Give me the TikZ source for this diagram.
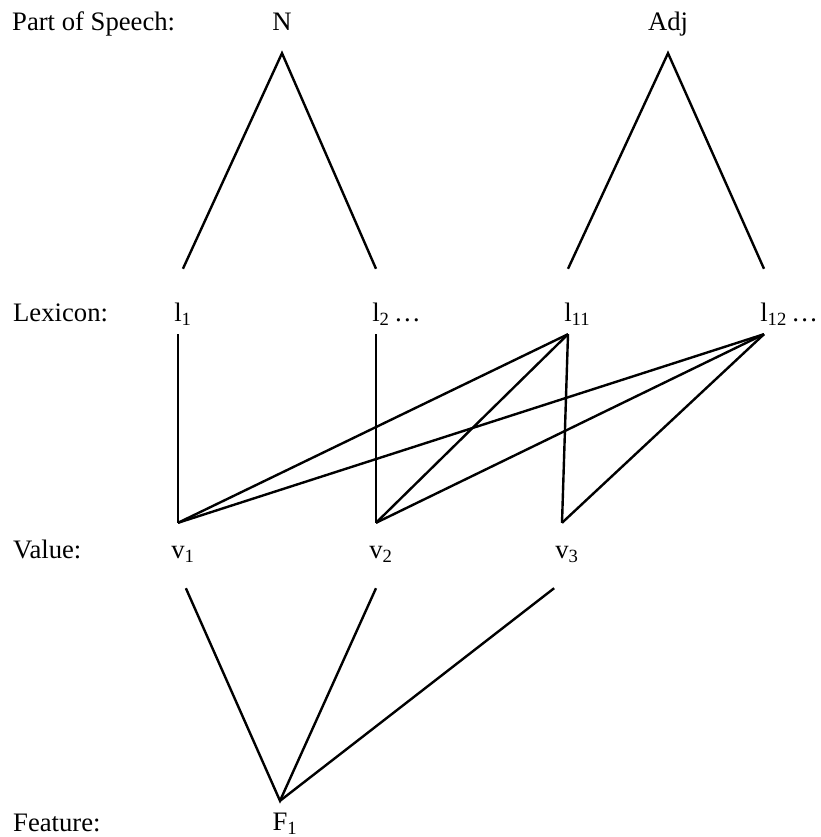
\documentclass[tikz,border=0pt]{standalone}
\usepackage{fontspec}
\setmainfont{Liberation Serif}
\usetikzlibrary{positioning}

\begin{document}
\begin{tikzpicture}[x=0.75pt, y=-0.75pt, line width=1.8pt,
  every node/.style={inner sep=0pt, anchor=base, font=\fontsize{20}{24}\selectfont},
  rowlabel/.style={anchor=base west},
  posrow/.style={text height=15pt, text depth=15.75pt},
  lexrow/.style={text height=38.25pt, text depth=9pt},
  valrow/.style={text height=25.5pt, text depth=21.75pt},
  featrow/.style={text height=21pt, text depth=0pt}]
\useasboundingbox (0,0) rectangle (820,837);

% Etiquetas de cada nivel
\node (lblpos) [rowlabel] at (11, 31) {Part of Speech:};
\node (lbllex) [rowlabel] at (12, 321) {Lexicon:};
\node (lblval) [rowlabel] at (12, 558) {Value:};
\node (lblfeat) [rowlabel] at (12, 831) {Feature:};

% Nodos de cada nivel
\node (N) [posrow] at (282, 31) {N};
\node (Adj) [posrow] at (668, 31) {Adj};

\node (l1) [lexrow] at (178, 321) {l\rlap{\textsubscript{1}}};
\node (l2) [lexrow] at (376, 321) {l\rlap{\textsubscript{2}\,…}};
\node (l11) [lexrow] at (568, 321) {l\rlap{\textsubscript{11}}};
\node (l12) [lexrow] at (764, 321) {l\rlap{\textsubscript{12}\,…}};

\node (v1) [valrow] at (178, 558) {v\rlap{\textsubscript{1}}};
\node (v2) [valrow] at (376, 558) {v\rlap{\textsubscript{2}}};
\node (v3) [valrow] at (562, 558) {v\rlap{\textsubscript{3}}};

\node (F1) [featrow] at (280, 830) {F\rlap{\textsubscript{1}}};

% Aristas entre niveles
\draw (l1.north east) -- (N.south) -- (l2.north);
\draw (l11.north) -- (Adj.south) -- (l12.north);

\draw (l1.south) -- (v1.north);
\draw (l2.south) -- (v2.north);
\foreach \lx in {l11, l12}
  \foreach \vx in {v1, v2, v3}
    \draw (\lx.south) -- (\vx.north);

\draw (v1.south east) -- (F1.north) -- (v2.south);
\draw (v3.south west) -- (F1.north);
\end{tikzpicture}
\end{document}
